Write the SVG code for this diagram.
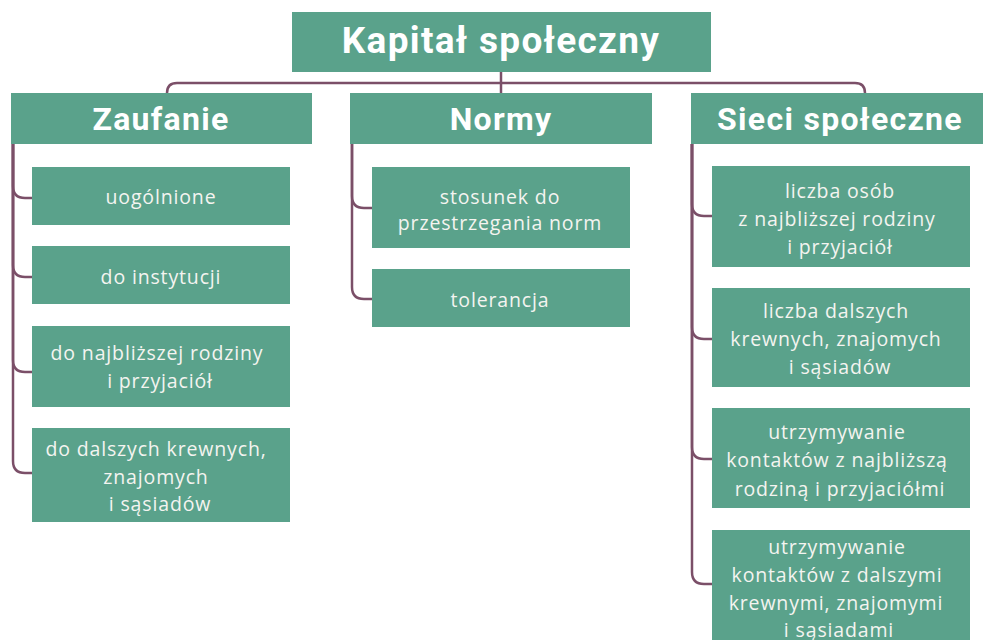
<svg xmlns="http://www.w3.org/2000/svg" width="983" height="640" viewBox="0 0 983 640">
<style>
.box{fill:#5aa28b}
.conn{fill:none;stroke:#7b4f68;stroke-width:2.5}
.title{font-family:Roboto,"Liberation Sans",sans-serif;font-weight:700;font-size:37px;letter-spacing:1.3px;fill:#ffffff;text-anchor:middle}
.head{font-family:Roboto,"Liberation Sans",sans-serif;font-weight:700;font-size:32px;letter-spacing:1.3px;fill:#ffffff;text-anchor:middle}
.item{font-family:"Open Sans","Liberation Sans",sans-serif;font-size:19.5px;letter-spacing:0.85px;fill:#f4f4f0;text-anchor:middle}
</style>
<rect width="983" height="640" fill="#ffffff"/>
<g id="connectors">
<path class="conn" d="M501,71 V93"/>
<path class="conn" d="M167,93 Q167,83 177,83 H855 Q865,83 865,93"/>
<path class="conn" d="M13,144 V186 Q13,198 25,198 H32"/>
<path class="conn" d="M13,144 V265 Q13,277 25,277 H32"/>
<path class="conn" d="M13,144 V360 Q13,372 25,372 H32"/>
<path class="conn" d="M13,144 V461 Q13,473 25,473 H32"/>
<path class="conn" d="M352,144 V196 Q352,208 364,208 H372"/>
<path class="conn" d="M352,144 V287 Q352,299 364,299 H372"/>
<path class="conn" d="M692,144 V204 Q692,216 704,216 H712"/>
<path class="conn" d="M692,144 V327 Q692,339 704,339 H712"/>
<path class="conn" d="M692,144 V447 Q692,459 704,459 H712"/>
<path class="conn" d="M692,144 V572 Q692,584 704,584 H712"/>
</g>
<g id="root"><rect class="box" x="292" y="12" width="419" height="60"/><text class="title" x="501" y="53">Kapitał społeczny</text></g>
<g id="zaufanie"><rect class="box" x="11" y="93" width="301" height="51"/><text class="head" x="161" y="130">Zaufanie</text></g>
<g id="normy"><rect class="box" x="350" y="93" width="302" height="51"/><text class="head" x="501" y="130">Normy</text></g>
<g id="sieci"><rect class="box" x="691" y="93" width="292" height="51"/><text class="head" x="840" y="130">Sieci społeczne</text></g>
<g id="z1"><rect class="box" x="32" y="167" width="258" height="58"/><text class="item" x="161" y="204">uogólnione</text></g>
<g id="z2"><rect class="box" x="32" y="246" width="258" height="58"/><text class="item" x="161" y="284">do instytucji</text></g>
<g id="z3"><rect class="box" x="32" y="326" width="258" height="81"/><text class="item" x="157" y="360">do najbliższej rodziny</text><text class="item" x="160" y="388">i przyjaciół</text></g>
<g id="z4"><rect class="box" x="32" y="428" width="258" height="94"/><text class="item" x="156" y="456">do dalszych krewnych,</text><text class="item" x="156" y="484">znajomych</text><text class="item" x="160" y="511">i sąsiadów</text></g>
<g id="n1"><rect class="box" x="372" y="167" width="258" height="81"/><text class="item" x="500" y="204">stosunek do</text><text class="item" x="500" y="230">przestrzegania norm</text></g>
<g id="n2"><rect class="box" x="372" y="269" width="258" height="58"/><text class="item" x="500" y="307">tolerancja</text></g>
<g id="s1"><rect class="box" x="712" y="166" width="258" height="101"/><text class="item" x="840" y="198">liczba osób</text><text class="item" x="837" y="226">z najbliższej rodziny</text><text class="item" x="840" y="254">i przyjaciół</text></g>
<g id="s2"><rect class="box" x="712" y="288" width="258" height="99"/><text class="item" x="836" y="318">liczba dalszych</text><text class="item" x="836" y="346">krewnych, znajomych</text><text class="item" x="840" y="374">i sąsiadów</text></g>
<g id="s3"><rect class="box" x="712" y="408" width="258" height="100"/><text class="item" x="837" y="439">utrzymywanie</text><text class="item" x="837" y="467">kontaktów z najbliższą</text><text class="item" x="840" y="496">rodziną i przyjaciółmi</text></g>
<g id="s4"><rect class="box" x="712" y="530" width="258" height="110"/><text class="item" x="837" y="554">utrzymywanie</text><text class="item" x="837" y="582">kontaktów z dalszymi</text><text class="item" x="836" y="610">krewnymi, znajomymi</text><text class="item" x="839" y="637">i sąsiadami</text></g>
</svg>
